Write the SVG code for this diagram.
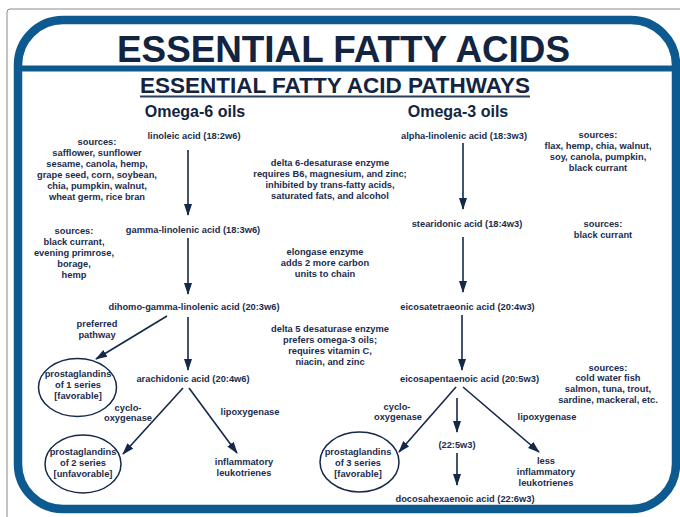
<svg xmlns="http://www.w3.org/2000/svg" width="680" height="517" viewBox="0 0 680 517">
<defs>
<style>
.t{font-family:"Liberation Sans",Arial,sans-serif;font-weight:bold;font-size:9.3px;fill:#1b2c4d;text-anchor:middle}
.h{font-family:"Liberation Sans",Arial,sans-serif;font-weight:bold;fill:#12243f;text-anchor:middle}
.c{fill:none;stroke:#13284a;stroke-width:1.6;marker-end:url(#ah)}
.e{fill:#fff;stroke:#13284a;stroke-width:1.5}
</style>
<marker id="ah" markerUnits="userSpaceOnUse" markerWidth="13" markerHeight="9" refX="11" refY="4" orient="auto">
<path d="M0,0 L12,4 L0,8 z" fill="#13284a"/>
</marker>
</defs>
<rect width="680" height="517" fill="#fff"/>
<path d="M7,517 V12 Q7,9 10,9 H680" fill="none" stroke="#8a8a8a" stroke-width="1"/>
<rect x="18" y="20" width="658" height="489" rx="45" ry="45" fill="#fff" stroke="#0d5a91" stroke-width="8.5"/>
<line x1="22" y1="68.5" x2="672" y2="68.5" stroke="#0d5a91" stroke-width="6"/>

<g id="header">
<text class="h" x="343.5" y="62" font-size="36" textLength="453" lengthAdjust="spacingAndGlyphs">ESSENTIAL FATTY ACIDS</text>
<text class="h" x="335" y="93" font-size="22" textLength="390" lengthAdjust="spacingAndGlyphs">ESSENTIAL FATTY ACID PATHWAYS</text>
<line x1="140" y1="96.5" x2="530" y2="96.5" stroke="#2b3d5e" stroke-width="1.8"/>
<text class="h" x="195" y="117" font-size="16">Omega-6 oils</text>
<text class="h" x="458" y="117" font-size="16">Omega-3 oils</text>
</g>

<g id="connectors">
<path class="c" d="M188,150 V215"/>
<path class="c" d="M188,238 V294"/>
<path class="c" d="M188,317 V370"/>
<path class="c" d="M167,316 L96,359"/>
<path class="c" d="M183,388 L123,454"/>
<path class="c" d="M189,388 L237,453"/>
<path class="c" d="M463,143 V209"/>
<path class="c" d="M463,237 V292"/>
<path class="c" d="M462,315 V370"/>
<path class="c" d="M456,387 L399,452"/>
<path class="c" d="M457,398 V432"/>
<path class="c" d="M463,387 L539,452"/>
<path class="c" d="M457,453 V485"/>
</g>

<g id="linoleic"><text class="t" x="194" y="139">linoleic acid (18:2w6)</text></g>
<g id="sources-w6-1">
<text class="t" x="97" y="145">sources:</text>
<text class="t" x="97" y="156">safflower, sunflower</text>
<text class="t" x="97" y="167">sesame, canola, hemp,</text>
<text class="t" x="97" y="178">grape seed, corn, soybean,</text>
<text class="t" x="97" y="189">chia, pumpkin, walnut,</text>
<text class="t" x="97" y="200">wheat germ, rice bran</text>
</g>
<g id="gla"><text class="t" x="193" y="233">gamma-linolenic acid (18:3w6)</text></g>
<g id="sources-w6-2">
<text class="t" x="74" y="234">sources:</text>
<text class="t" x="74" y="245">black currant,</text>
<text class="t" x="74" y="256">evening primrose,</text>
<text class="t" x="74" y="267">borage,</text>
<text class="t" x="74" y="278">hemp</text>
</g>
<g id="dgla"><text class="t" x="194" y="310">dihomo-gamma-linolenic acid (20:3w6)</text></g>
<g id="preferred">
<text class="t" x="97" y="327">preferred</text>
<text class="t" x="97" y="338">pathway</text>
</g>
<g id="pg1">
<ellipse class="e" cx="77.5" cy="387.5" rx="39" ry="29"/>
<text class="t" x="78" y="377">prostaglandins</text>
<text class="t" x="78" y="388">of 1 series</text>
<text class="t" x="78" y="399">[favorable]</text>
</g>
<g id="aa"><text class="t" x="193" y="382">arachidonic acid (20:4w6)</text></g>
<g id="cox6">
<text class="t" x="128" y="411">cyclo-</text>
<text class="t" x="128" y="421">oxygenase</text>
</g>
<g id="lox6"><text class="t" x="250" y="415">lipoxygenase</text></g>
<g id="pg2">
<ellipse class="e" cx="83" cy="464" rx="38" ry="29"/>
<text class="t" x="83" y="455">prostaglandins</text>
<text class="t" x="83" y="466">of 2 series</text>
<text class="t" x="83" y="477">[unfavorable]</text>
</g>
<g id="lt6">
<text class="t" x="244" y="465">inflammatory</text>
<text class="t" x="244" y="476">leukotrienes</text>
</g>

<g id="d6d">
<text class="t" x="330" y="166">delta 6-desaturase enzyme</text>
<text class="t" x="330" y="177">requires B6, magnesium, and zinc;</text>
<text class="t" x="330" y="188">inhibited by trans-fatty acids,</text>
<text class="t" x="330" y="199">saturated fats, and alcohol</text>
</g>
<g id="elongase">
<text class="t" x="325" y="255">elongase enzyme</text>
<text class="t" x="325" y="266">adds 2 more carbon</text>
<text class="t" x="325" y="277">units to chain</text>
</g>
<g id="d5d">
<text class="t" x="330" y="332">delta 5 desaturase enzyme</text>
<text class="t" x="330" y="343">prefers omega-3 oils;</text>
<text class="t" x="330" y="354">requires vitamin C,</text>
<text class="t" x="330" y="365">niacin, and zinc</text>
</g>

<g id="ala"><text class="t" x="464" y="139">alpha-linolenic acid (18:3w3)</text></g>
<g id="sources-w3-1">
<text class="t" x="598" y="138">sources:</text>
<text class="t" x="598" y="149">flax, hemp, chia, walnut,</text>
<text class="t" x="598" y="160">soy, canola, pumpkin,</text>
<text class="t" x="598" y="171">black currant</text>
</g>
<g id="sda"><text class="t" x="467" y="227">stearidonic acid (18:4w3)</text></g>
<g id="sources-w3-2">
<text class="t" x="603" y="227">sources:</text>
<text class="t" x="603" y="238">black currant</text>
</g>
<g id="eta"><text class="t" x="467.5" y="310">eicosatetraeonic acid (20:4w3)</text></g>
<g id="epa"><text class="t" x="469.5" y="382">eicosapentaenoic acid (20:5w3)</text></g>
<g id="sources-w3-3">
<text class="t" x="608" y="371">sources:</text>
<text class="t" x="608" y="381">cold water fish</text>
<text class="t" x="608" y="392">salmon, tuna, trout,</text>
<text class="t" x="608" y="403">sardine, mackeral, etc.</text>
</g>
<g id="cox3">
<text class="t" x="397" y="410">cyclo-</text>
<text class="t" x="398" y="420">oxygenase</text>
</g>
<g id="lox3"><text class="t" x="547" y="420">lipoxygenase</text></g>
<g id="pg3">
<ellipse class="e" cx="359.5" cy="462" rx="39.5" ry="30"/>
<text class="t" x="358" y="455">prostaglandins</text>
<text class="t" x="358" y="466">of 3 series</text>
<text class="t" x="358" y="477">[favorable]</text>
</g>
<g id="dpa"><text class="t" x="457" y="448">(22:5w3)</text></g>
<g id="lt3">
<text class="t" x="546" y="464">less</text>
<text class="t" x="546" y="475">inflammatory</text>
<text class="t" x="546" y="486">leukotrienes</text>
</g>
<g id="dha"><text class="t" x="465" y="502">docosahexaenoic acid (22:6w3)</text></g>
</svg>
